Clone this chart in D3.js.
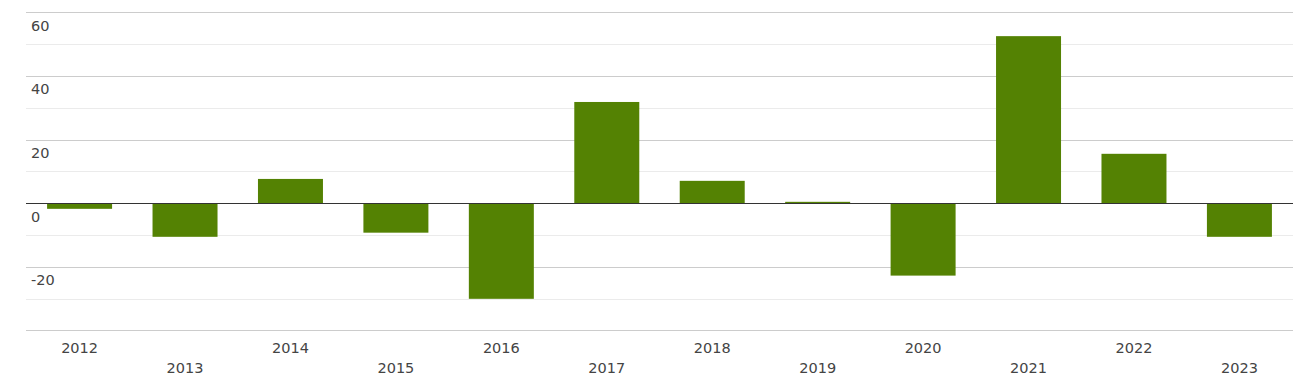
<!DOCTYPE html>
<html><head><meta charset="utf-8">
<script src="https://cdn.jsdelivr.net/npm/d3@7"></script>
<style>body{margin:0;background:#fff}svg{display:block}text{font-family:"DejaVu Sans",sans-serif}</style>
</head><body><svg id="c" width="1293" height="384"></svg>
<script>
const categories = ["2012","2013","2014","2015","2016","2017","2018","2019","2020","2021","2022","2023"];
const values = [-1.8,-10.6,7.6,-9.3,-30.1,31.8,7.0,0.4,-22.8,52.5,15.5,-10.6];
const majorTicks = [60,40,20,0,-20,-40];
const minorTicks = [50,30,10,-10,-30];
const tickLabels = ["60","40","20","0","-20"];

const svg = d3.select("#c");
const left = 26, right = 1293;
const y = d3.scaleLinear().domain([-40,60]).range([330.3,12.3]);
const x = d3.scaleBand().domain(categories).range([left,right]).paddingInner(0.3836).paddingOuter(0.2);

svg.selectAll("line.minor").data(minorTicks).join("line")
  .attr("x1",left).attr("x2",right)
  .attr("y1",d=>Math.round(y(d))+0.5).attr("y2",d=>Math.round(y(d))+0.5)
  .attr("stroke","#ebebeb").attr("stroke-width",1);
svg.selectAll("line.major").data(majorTicks.filter(d=>d!==0)).join("line")
  .attr("x1",left).attr("x2",right)
  .attr("y1",d=>Math.round(y(d))+0.5).attr("y2",d=>Math.round(y(d))+0.5)
  .attr("stroke","#cccccc").attr("stroke-width",1);

svg.selectAll("rect.bar").data(values).join("rect")
  .attr("x",(d,i)=>x(categories[i]))
  .attr("width",x.bandwidth())
  .attr("y",d=>y(Math.max(0,d)))
  .attr("height",d=>Math.abs(y(d)-y(0)))
  .attr("fill","#548203");

svg.append("line").attr("x1",left).attr("x2",right)
  .attr("y1",Math.round(y(0))+0.5).attr("y2",Math.round(y(0))+0.5)
  .attr("stroke","#333").attr("stroke-width",1);

svg.selectAll("text.yl").data(tickLabels).join("text")
  .attr("x",31).attr("y",d=>y(+d)+18.5)
  .attr("font-size","14.5px").attr("fill","#444").text(d=>d);

svg.selectAll("text.xl").data(categories).join("text")
  .attr("x",d=>x(d)+x.bandwidth()/2)
  .attr("y",(d,i)=>i%2===0?353:373)
  .attr("text-anchor","middle")
  .attr("font-size","14.5px").attr("fill","#444").text(d=>d);
</script></body></html>
